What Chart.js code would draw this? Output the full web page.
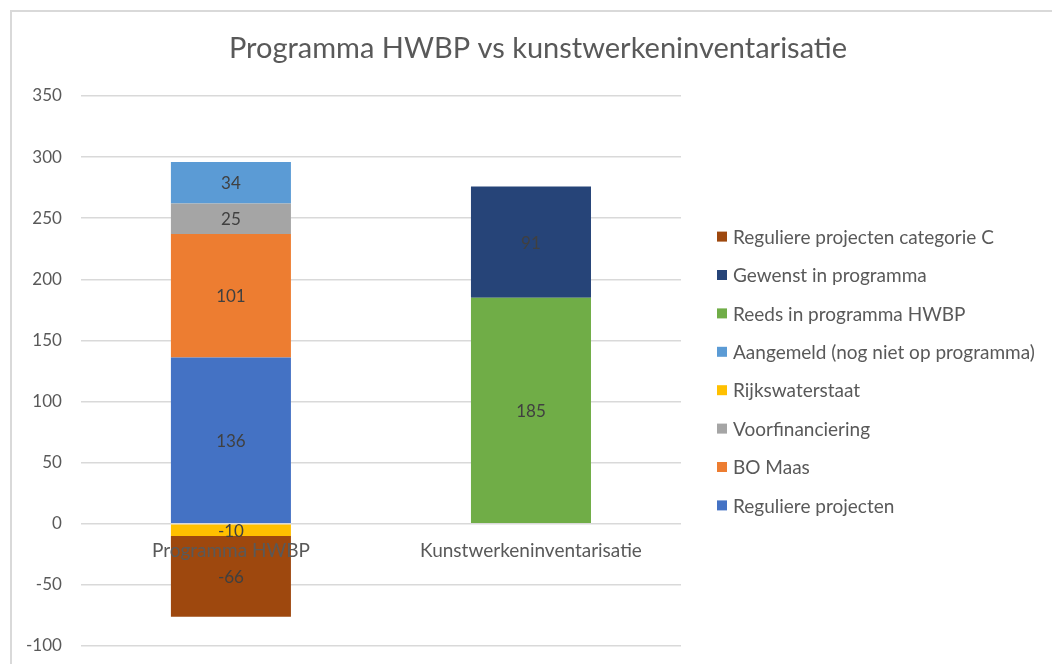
<!DOCTYPE html>
<html>
<head>
<meta charset="utf-8">
<script src="https://cdn.jsdelivr.net/npm/chart.js@4.4.1/dist/chart.umd.min.js"></script>
<style>
  html, body { margin: 0; padding: 0; background: #fff; overflow: hidden; }
  #frame {
    position: absolute; left: 10px; top: 10px;
    width: 1056px; height: 700px;
    border: 2px solid #d9d9d9; box-sizing: border-box;
  }
</style>
</head>
<body>
<div id="frame"><canvas id="chart_1"></canvas></div>
<script>
// categories
var categories = ["Programma HWBP", "Kunstwerkeninventarisatie"];

// series (stack order, bottom to top)
var seriesNames = [
  "Reguliere projecten",
  "BO Maas",
  "Voorfinanciering",
  "Rijkswaterstaat",
  "Aangemeld (nog niet op programma)",
  "Reeds in programma HWBP",
  "Gewenst in programma",
  "Reguliere projecten categorie C"
];
var reguliere = [136, null];
var boMaas = [101, null];
var voorfinanciering = [25, null];
var rijkswaterstaat = [-10, null];
var aangemeld = [34, null];
var reeds = [null, 185];
var gewenst = [null, 91];
var categorieC = [-66, null];

var seriesColors = ["#4472C4", "#ED7D31", "#A5A5A5", "#FFC000", "#5B9BD5", "#70AD47", "#264478", "#9E480E"];
var seriesValues = [reguliere, boMaas, voorfinanciering, rijkswaterstaat, aangemeld, reeds, gewenst, categorieC];

var chartTitle = "Programma HWBP vs kunstwerkeninventarisatie";

// y axis ticks
var yMin = -100;
var yMax = 350;
var yStep = 50;

var FONT = "Lato";
var TEXT = "#595959";

var datasets = seriesNames.map(function (name, i) {
  return {
    label: name,
    data: seriesValues[i],
    backgroundColor: seriesColors[i],
    borderWidth: 0,
  };
});

const ctxval1 = document.getElementById("chart_1");

var myChart1 = new Chart(ctxval1, {
  type: "bar",
  data: {
    labels: categories,
    datasets: datasets,
  },
  options: {
    responsive: true,
    maintainAspectRatio: false,
    animation: false,
    categoryPercentage: 1,
    barPercentage: 0.4,
    layout: {
      // top is kept for the title, right side for the legend (both drawn below)
      padding: { left: -5, right: 383, top: 84, bottom: 54 },
    },
    plugins: {
      title: { display: false },
      legend: { display: false },
      tooltip: { enabled: false },
    },
    //SCALES
    scales: {
      x: {
        stacked: true,
        grid: { display: false },
        border: { display: false },
        ticks: { display: false },
      },
      y: {
        stacked: true,
        min: yMin,
        max: yMax,
        ticks: {
          stepSize: yStep,
          padding: 19,
          color: TEXT,
          font: { family: FONT, size: 17 },
        },
        grid: {
          color: "#d9d9d9",
          lineWidth: 1.5,
          drawTicks: false,
        },
        border: { display: false },
      },
    },
  },
  plugins: [
    {
      id: "barValuesAndCategories",
      afterDatasetsDraw: (chart) => {
        const { ctx, scales } = chart;
        ctx.save();
        ctx.textAlign = "center";
        ctx.textBaseline = "middle";
        // values inside each segment
        ctx.font = "17px " + FONT;
        ctx.fillStyle = "#404040";
        chart.data.datasets.forEach((ds, i) => {
          const meta = chart.getDatasetMeta(i);
          meta.data.forEach((bar, j) => {
            const v = ds.data[j];
            if (v === null || v === undefined) return;
            const p = bar.getProps(["x", "y", "base"], true);
            ctx.fillText(String(v), p.x, (p.y + p.base) / 2 + 1);
          });
        });
        // category labels under the zero line
        const zeroY = scales.y.getPixelForValue(0);
        ctx.font = "19px " + FONT;
        ctx.fillStyle = TEXT;
        categories.forEach((c, j) => {
          ctx.fillText(c, scales.x.getPixelForValue(j), zeroY + 27);
        });
        ctx.restore();
      },
    },
    {
      //Title centred on the whole frame + legend on the right
      id: "titleAndLegend",
      afterDraw: (chart) => {
        const { ctx, chartArea, width } = chart;
        ctx.save();
        ctx.fillStyle = TEXT;
        ctx.font = "29px " + FONT;
        ctx.textAlign = "center";
        ctx.textBaseline = "middle";
        ctx.fillText(chartTitle, width / 2, 37);

        const items = chart.data.datasets.slice().reverse();
        const rowH = 38.4;
        const midY = (chartArea.top + chartArea.bottom) / 2;
        const boxX = chartArea.right + 36;
        ctx.font = "19px " + FONT;
        ctx.textAlign = "left";
        items.forEach((ds, k) => {
          const y = midY + (k - (items.length - 1) / 2) * rowH;
          ctx.fillStyle = ds.backgroundColor;
          ctx.fillRect(boxX, y - 5, 10, 10);
          ctx.fillStyle = TEXT;
          ctx.fillText(ds.label, boxX + 16, y + 1);
        });
        ctx.restore();
      },
    },
  ],
});
</script>
</body>
</html>
